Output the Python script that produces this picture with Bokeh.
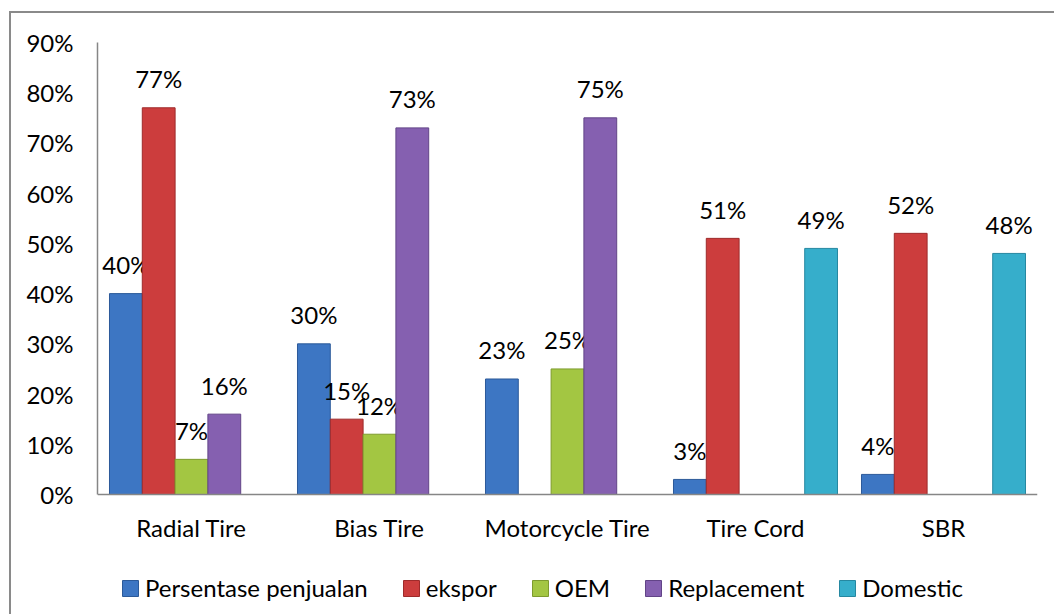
from bokeh.plotting import figure
from bokeh.models import (ColumnDataSource, FactorRange, Range1d, FixedTicker,
                          PrintfTickFormatter, Legend, LegendItem)
from bokeh.transform import dodge
from bokeh.core.properties import value
from bokeh.embed import file_html
from bokeh.resources import INLINE

categories = ["Radial Tire", "Bias Tire", "Motorcycle Tire", "Tire Cord", "SBR"]
series_names = ["Persentase penjualan", "ekspor", "OEM", "Replacement", "Domestic"]
persentase_penjualan = [40, 30, 23, 3, 4]
ekspor = [77, 15, None, 51, 52]
oem = [7, 12, 25, None, None]
replacement = [16, 73, 75, None, None]
domestic = [None, None, None, 49, 48]
y_ticks = [0, 10, 20, 30, 40, 50, 60, 70, 80, 90]

series_values = [persentase_penjualan, ekspor, oem, replacement, domestic]
colors = ["#3D76C3", "#CC3D3D", "#A3C642", "#8560B0", "#36AECB"]
line_colors = ["#2C5A99", "#9E2B2B", "#7E9B2E", "#624487", "#2688A1"]

FONT = "Lato"
bar_w = 0.1745
offsets = [-2 * bar_w, -bar_w, 0.0, bar_w, 2 * bar_w]

# canvas sits at page (11, 13); axis 0 at page y=494, 90 at page y=42
Y_MAX = 90
y_start = -(616 - 494) / (494 - 42) * Y_MAX

p = figure(x_range=FactorRange(*categories), y_range=Range1d(y_start, Y_MAX),
           width=1045, height=603, output_backend="svg", toolbar_location=None,
           min_border_left=86, min_border_top=29, min_border_right=19,
           min_border_bottom=0)
p.styles = {"margin-left": "9px", "margin-top": "11px",
            "border-left": "2px solid #8a8a8a", "border-top": "2px solid #8a8a8a"}
p.outline_line_color = None
p.xgrid.visible = False
p.ygrid.visible = False
p.background_fill_color = "white"
p.border_fill_color = "white"

items = []
for name, vals, col, lc, off in zip(series_names, series_values, colors, line_colors, offsets):
    cats = [c for c, v in zip(categories, vals) if v is not None]
    vs = [v for v in vals if v is not None]
    src = ColumnDataSource(dict(cat=cats, val=vs, lab=[f"{v}%" for v in vs]))
    r = p.vbar(x=dodge("cat", off, range=p.x_range), top="val", width=bar_w, bottom=0,
               source=src, fill_color=col, line_color=lc, line_width=1)
    p.text(x=dodge("cat", off, range=p.x_range), y="val", text="lab", source=src,
           text_font=value(FONT), text_font_size="24px", text_color="#000000",
           text_align="center", text_baseline="alphabetic", y_offset=-29)
    items.append(LegendItem(label=name, renderers=[r]))

p.yaxis.ticker = FixedTicker(ticks=y_ticks)
p.yaxis.formatter = PrintfTickFormatter(format="%d%%")
p.yaxis.bounds = (0, Y_MAX)
p.xaxis.fixed_location = 0
for ax in (p.xaxis[0], p.yaxis[0]):
    ax.axis_line_color = "#868686"
    ax.axis_line_width = 1.5
    ax.major_tick_line_color = None
    ax.minor_tick_line_color = None
    ax.major_tick_out = 0
    ax.major_tick_in = 0
    ax.major_label_text_font = FONT
    ax.major_label_text_font_size = "24px"
    ax.major_label_text_color = "#000000"
p.yaxis.major_label_standoff = 24
p.xaxis.major_label_standoff = 18

legend = Legend(items=items, orientation="horizontal", location=(23, 14),
                label_text_font=FONT, label_text_font_size="24px",
                label_text_color="#000000", glyph_width=20, glyph_height=20,
                label_standoff=5, spacing=33, padding=0, margin=0,
                border_line_color=None, background_fill_alpha=0)
p.add_layout(legend, "center")

open("out.html", "w").write(file_html(p, INLINE))
